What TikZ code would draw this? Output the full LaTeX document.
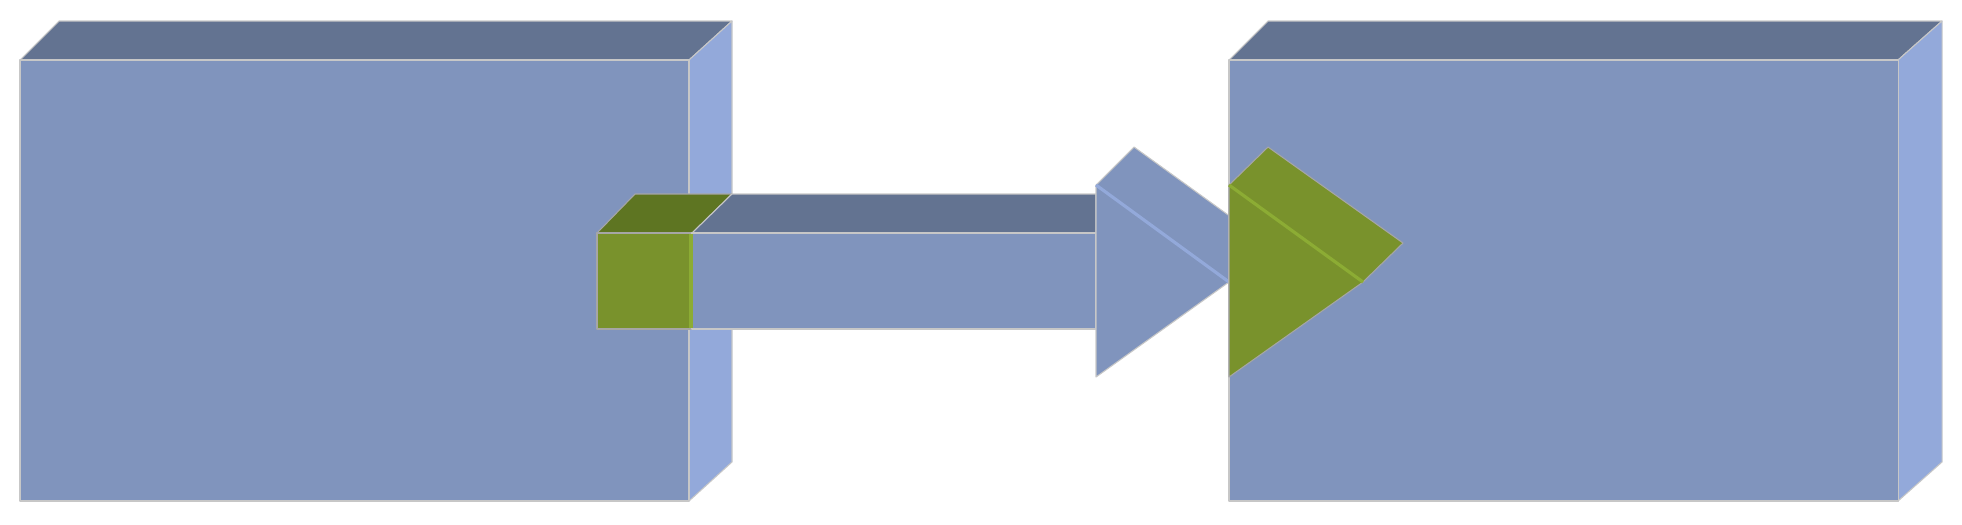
\documentclass[tikz,border=0pt]{standalone}
\usepackage{xcolor}
\usepackage{tikz}

\definecolor{frontblue}{RGB}{128,148,189}
\definecolor{topblue}{RGB}{99,115,145}
\definecolor{sideblue}{RGB}{147,169,218}
\definecolor{frontgreen}{RGB}{121,146,44}
\definecolor{topgreen}{RGB}{94,117,34}
\definecolor{lightgreen}{RGB}{140,172,52}

\begin{document}
\begin{tikzpicture}[
    x=0.1mm, y=-0.1mm,
    frontface/.style={fill=frontblue, draw=black!22, line width=0.3pt, line join=round},
    topface/.style={fill=topblue, draw=black!22, line width=0.3pt, line join=round},
    sideface/.style={fill=sideblue, draw=black!22, line width=0.3pt, line join=round},
    greenface/.style={fill=frontgreen, draw=black!35, line width=0.3pt, line join=round},
    crease/.style={line width=0.9pt}
]
\useasboundingbox (0,0) rectangle (1962,524);

% left block
\coordinate (lbox) at (20,60);
\draw[topface] (lbox) -- ++(39,-39) -- (732,21) -- (689,60) -- cycle;
\draw[sideface] (689,60) -- (732,21) -- (732,462) -- (689,501) -- cycle;
\draw[frontface] (lbox) rectangle (689,501);

% green cube at the tail
\coordinate (tail) at (597,233);
\draw[greenface, fill=topgreen] (tail) -- ++(38,-39) -- (732,194) -- (692,233) -- cycle;
\draw[greenface] (tail) rectangle (692,329);

% shaft
\draw[topface] (692,233) -- (732,194) -- (1096,194) -- (1096,233) -- cycle;
\draw[frontface] (692,233) rectangle (1096,329);
\draw[crease, lightgreen] (691,234) -- (691,328);

% head
\coordinate (head) at (1096,185);
\coordinate (tip) at (1229,282);
\draw[frontface] (head) -- ++(38,-38) -- (1267,243) -- (tip) -- cycle;
\draw[frontface] (head) -- (tip) -- (1096,377) -- cycle;
\draw[crease, sideblue] (head) -- (tip);

% right block
\coordinate (rbox) at (1229,60);
\draw[topface] (rbox) -- ++(39,-39) -- (1942,21) -- (1898,60) -- cycle;
\draw[sideface] (1898,60) -- (1942,21) -- (1942,462) -- (1898,501) -- cycle;
\draw[frontface] (rbox) rectangle (1898,501);

% green triangle
\coordinate (wedge) at (1229,185);
\coordinate (wtip) at (1363,282);
\draw[greenface] (wedge) -- ++(39,-38) -- (1403,243) -- (wtip) -- cycle;
\draw[greenface] (wedge) -- (wtip) -- (1229,377) -- cycle;
\draw[crease, lightgreen] (wedge) -- (wtip);

\end{tikzpicture}
\end{document}
